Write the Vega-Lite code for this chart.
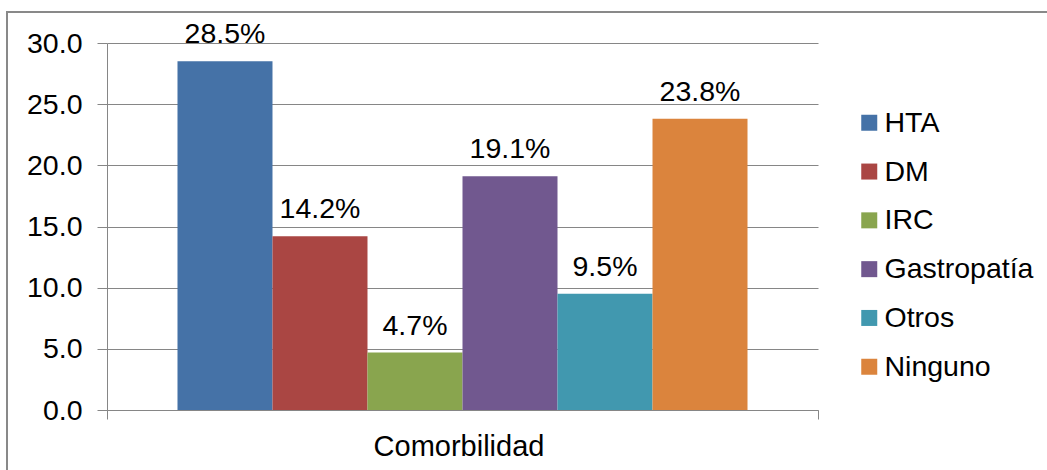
{
  "$schema": "https://vega.github.io/schema/vega-lite/v6.json",
  "width": 1050,
  "height": 468,
  "autosize": {"type": "none"},
  "padding": {"left": 7, "top": 12, "right": -10, "bottom": -10},
  "background": "white",
  "config": {
    "font": "Liberation Sans",
    "view": {"stroke": "#898989", "strokeWidth": 2}
  },
  "data": {
    "values": [
      {"grupo": "Comorbilidad", "serie": "HTA", "valor": 28.5},
      {"grupo": "Comorbilidad", "serie": "DM", "valor": 14.2},
      {"grupo": "Comorbilidad", "serie": "IRC", "valor": 4.7},
      {"grupo": "Comorbilidad", "serie": "Gastropatía", "valor": 19.1},
      {"grupo": "Comorbilidad", "serie": "Otros", "valor": 9.5},
      {"grupo": "Comorbilidad", "serie": "Ninguno", "valor": 23.8}
    ]
  },
  "encoding": {
    "x": {
      "field": "grupo",
      "type": "nominal",
      "scale": {"range": [100, 811], "paddingInner": 0, "paddingOuter": 0},
      "axis": {
        "title": null,
        "orient": "bottom",
        "offset": -70,
        "labelAngle": 0,
        "tickBand": "extent",
        "tickSize": 9,
        "tickColor": "#868686",
        "domainColor": "#868686",
        "labelFontSize": 29,
        "labelColor": "black",
        "labelPadding": 13,
        "labelOffset": -4
      }
    },
    "xOffset": {
      "field": "serie",
      "type": "nominal",
      "sort": ["HTA", "DM", "IRC", "Gastropatía", "Otros", "Ninguno"],
      "scale": {"paddingInner": 0, "paddingOuter": 0.742}
    },
    "y": {
      "field": "valor",
      "type": "quantitative",
      "scale": {"domain": [0, 30], "range": [398, 31], "nice": false, "zero": true},
      "axis": {
        "title": null,
        "orient": "left",
        "offset": -100,
        "values": [0, 5, 10, 15, 20, 25, 30],
        "format": ".1f",
        "grid": true,
        "gridColor": "#868686",
        "tickSize": 10,
        "tickColor": "#868686",
        "domainColor": "#868686",
        "labelFontSize": 28.5,
        "labelColor": "black",
        "labelPadding": 15
      }
    }
  },
  "layer": [
    {
      "mark": {"type": "bar"},
      "encoding": {
        "color": {
          "field": "serie",
          "type": "nominal",
          "scale": {
            "domain": ["HTA", "DM", "IRC", "Gastropatía", "Otros", "Ninguno"],
            "range": ["#4572A7", "#AA4643", "#89A54E", "#71588F", "#4198AF", "#DB843D"]
          },
          "legend": {
            "orient": "none",
            "legendX": 848,
            "legendY": 96.5,
            "title": null,
            "padding": 0,
            "symbolType": "square",
            "symbolSize": 256,
            "symbolStrokeWidth": 0,
            "labelFontSize": 28.5,
            "labelColor": "black",
            "labelOffset": 1,
            "rowPadding": 19.8
          }
        }
      }
    },
    {
      "transform": [{"calculate": "format(datum.valor, '.1f') + '%'", "as": "etiqueta"}],
      "mark": {"type": "text", "baseline": "alphabetic", "dy": -18, "fontSize": 28.5, "color": "black"},
      "encoding": {"text": {"field": "etiqueta", "type": "nominal"}}
    }
  ]
}
